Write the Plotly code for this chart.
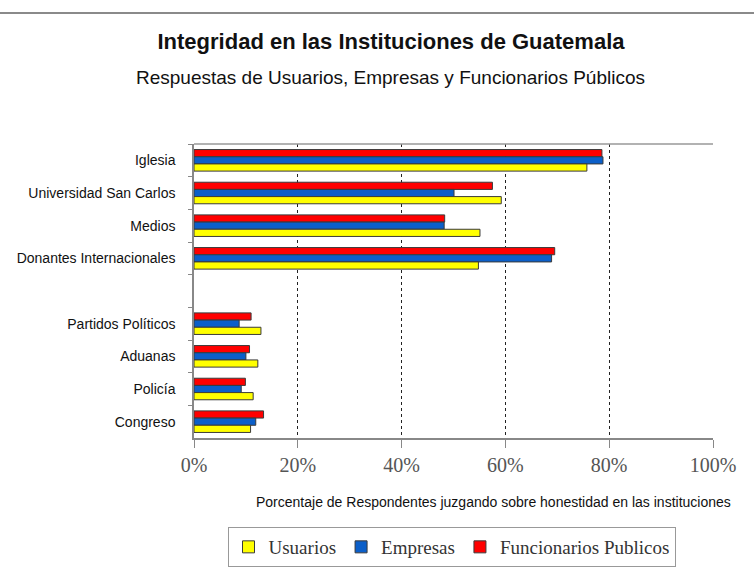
import plotly.graph_objects as go

categories = ["Iglesia", "Universidad San Carlos", "Medios", "Donantes Internacionales",
              " ", "Partidos Políticos", "Aduanas", "Policía", "Congreso"]
usuarios = [75.7, 59.2, 55.1, 54.8, None, 12.9, 12.3, 11.4, 10.9]
empresas = [78.8, 50.1, 48.2, 68.9, None, 8.7, 10.0, 9.1, 11.9]
funcionarios = [78.6, 57.5, 48.3, 69.5, None, 11.0, 10.7, 9.9, 13.4]
series_names = ["Usuarios", "Empresas", "Funcionarios Publicos"]
series_colors = ["#FFFF00", "#0B5FC9", "#FF0000"]
x_ticks = [0, 20, 40, 60, 80, 100]
x_tick_labels = ["0%", "20%", "40%", "60%", "80%", "100%"]

SANS = "Liberation Sans, Arial, sans-serif"
SERIF = "Liberation Serif, Times New Roman, serif"

fig = go.Figure()
series = list(zip(series_names, [usuarios, empresas, funcionarios], series_colors))
# add in reverse so that (with a reversed category axis) red is on top, yellow at bottom
for name, vals, col in reversed(series):
    fig.add_trace(go.Bar(
        y=categories, x=vals, name=name, orientation="h",
        marker=dict(color=col, line=dict(color="#3a3a3a", width=1)),
    ))

W, H = 754, 575
L, R, T, B = 194, 41, 144, 137
pw = W - L - R
ph = H - T - B

fig.update_layout(
    width=W, height=H,
    margin=dict(l=L, r=R, t=T, b=B, autoexpand=False),
    paper_bgcolor="white", plot_bgcolor="white",
    barmode="group", bargap=0.34, bargroupgap=0,
    font=dict(family=SANS, color="#111"),
    title=dict(text="<b>Integridad en las Instituciones de Guatemala</b>",
               x=391 / W, xanchor="center", xref="container",
               y=1 - 41 / H, yanchor="middle", yref="container",
               font=dict(family=SANS, size=22, color="#111")),
    legend=dict(orientation="h", x=(451.5 - L) / pw, xanchor="center",
                y=(ph - (527 - T)) / ph, yanchor="top",
                bordercolor="#999", borderwidth=1, itemwidth=30,
                font=dict(family=SERIF, size=19, color="#333"),
                traceorder="reversed"),
    xaxis=dict(range=[0, 100], tickmode="array", tickvals=x_ticks, ticktext=x_tick_labels,
               showgrid=True, gridcolor="#222", griddash="dot", gridwidth=1,
               showline=True, linecolor="#888", linewidth=1.5,
               ticks="outside", ticklen=8, tickcolor="#888",
               tickfont=dict(family=SERIF, size=20, color="#555"),
               zeroline=False, fixedrange=True, automargin=False),
    yaxis=dict(categoryorder="array", categoryarray=categories,
               range=[len(categories) - 0.5, -0.5],
               showline=True, linecolor="#888", linewidth=1.5,
               ticks="outside", tickson="boundaries", ticklen=4, tickcolor="#888",
               ticklabelstandoff=14,
               tickfont=dict(family=SANS, size=14, color="#111"),
               showgrid=False, zeroline=False, fixedrange=True, automargin=False),
)

fig.add_annotation(text="Respuestas de Usuarios, Empresas y Funcionarios Públicos",
                   xref="paper", yref="paper",
                   x=(390 - L) / pw, y=1 + (T - 77) / ph,
                   xanchor="center", yanchor="middle", showarrow=False,
                   font=dict(family=SANS, size=19, color="#111"))
fig.add_annotation(text="Porcentaje de Respondentes juzgando sobre honestidad en las instituciones",
                   xref="paper", yref="paper",
                   x=(493 - L) / pw, y=-(502 - (T + ph)) / ph,
                   xanchor="center", yanchor="middle", showarrow=False,
                   font=dict(family=SANS, size=14, color="#111"))

# top border of plot area
fig.add_shape(type="line", xref="paper", yref="paper", x0=0, x1=1, y0=1, y1=1,
              line=dict(color="#999", width=1.5))
# gray rule at very top of page
fig.add_shape(type="line", xref="paper", yref="paper",
              x0=-L / pw, x1=(W - L) / pw,
              y0=1 + (T - 13) / ph, y1=1 + (T - 13) / ph,
              line=dict(color="#8a8a8a", width=2))

fig.write_html("out.html",
               config={"displayModeBar": False},
               post_script="document.body.style.margin='0';document.body.style.padding='0';")
